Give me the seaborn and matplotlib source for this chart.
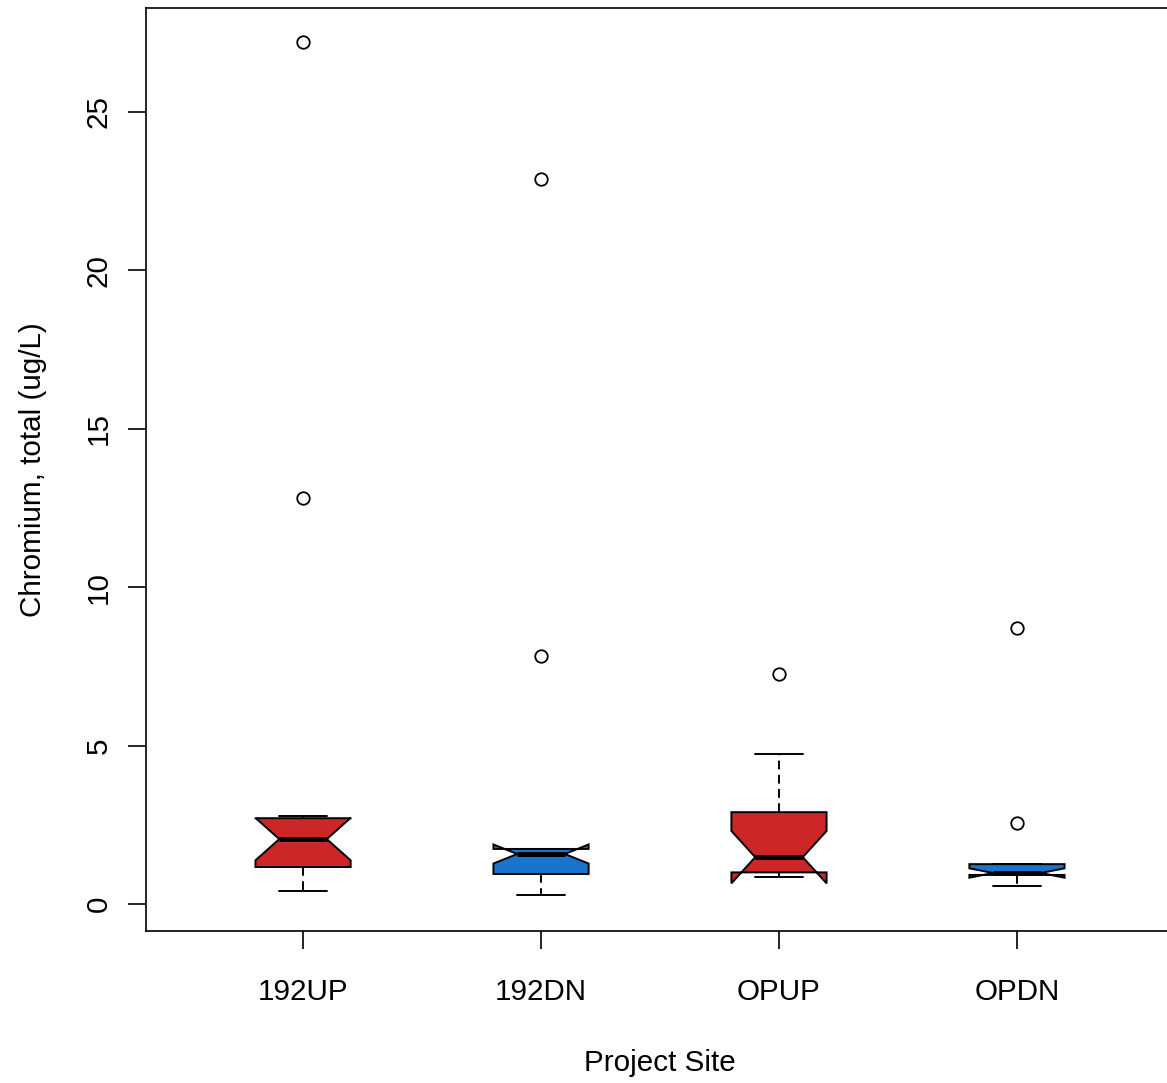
import numpy as np
import pandas as pd
import seaborn as sns
import matplotlib
matplotlib.use("Agg")
import matplotlib.pyplot as plt

sites = ["192UP", "192DN", "OPUP", "OPDN"]
site_colors = {"192UP": "#CD2626", "192DN": "#1874CD", "OPUP": "#CD2626", "OPDN": "#1874CD"}

# chromium readings per site (ug/L)
cr_192up = [0.41, 0.80, 1.00, 1.17, 1.50, 1.80, 2.05, 2.30, 2.50, 2.71, 2.78, 12.8, 27.2]
cr_192dn = [0.28, 0.60, 0.80, 0.90, 0.95, 1.10, 1.30, 1.45, 1.58, 1.62, 1.66, 1.70, 1.74,
            1.74, 1.74, 7.83, 22.88]
cr_opup = [0.85, 0.90, 0.95, 1.00, 1.20, 1.35, 1.48, 1.90, 2.40, 2.90, 3.60, 4.73, 7.25]
cr_opdn = [0.57, 0.75, 0.85, 0.92, 0.94, 0.96, 0.98, 1.05, 1.15, 1.26, 1.26, 2.55, 8.71]

values = [cr_192up, cr_192dn, cr_opup, cr_opdn]
df = pd.DataFrame({
    "site": np.repeat(sites, [len(v) for v in values]),
    "chromium": np.concatenate(values),
})

sns.set_style("ticks")
plt.rcParams["font.family"] = ["Liberation Sans", "DejaVu Sans"]
plt.rcParams["text.color"] = "black"
plt.rcParams["axes.labelcolor"] = "black"

fig = plt.figure(figsize=(11.67, 10.83), dpi=100)
ax = fig.add_axes([0.12511, 0.14035, 0.8809, 0.85226])

sns.boxplot(data=df, x="site", y="chromium", hue="site", order=sites, hue_order=sites,
            palette=site_colors, saturation=1, legend=False, width=0.4, notch=True, whis=1.5,
            linecolor="black", linewidth=1.4, dodge=False, ax=ax,
            medianprops={"color": "black", "linewidth": 3.6},
            whiskerprops={"color": "black", "linestyle": (0, (4.5, 2.8))},
            capprops={"color": "black"},
            flierprops={"marker": "o", "markerfacecolor": "none", "markeredgecolor": "black",
                        "markersize": 9, "markeredgewidth": 1.3})

ax.set_xlim(-0.66, 3.66)
ax.set_ylim(-0.85, 28.28)
ax.set_yticks([0, 5, 10, 15, 20, 25])
ax.set_yticklabels(["0", "5", "10", "15", "20", "25"], rotation=90, va="center")
ax.set_xticks(range(4))
ax.set_xticklabels(sites)
ax.tick_params(axis="both", length=13, width=1.2, color="black", labelsize=21.3,
               labelcolor="black", direction="out")
ax.tick_params(axis="x", pad=21)
ax.tick_params(axis="y", pad=11)
for s in ax.spines.values():
    s.set_visible(True)
    s.set_color("black")
    s.set_linewidth(1.2)
ax.set_xlabel("Project Site", fontsize=21.3, labelpad=31)
ax.set_ylabel("Chromium, total (ug/L)", fontsize=21.3, labelpad=27)

fig.savefig("out.png", dpi=100)
